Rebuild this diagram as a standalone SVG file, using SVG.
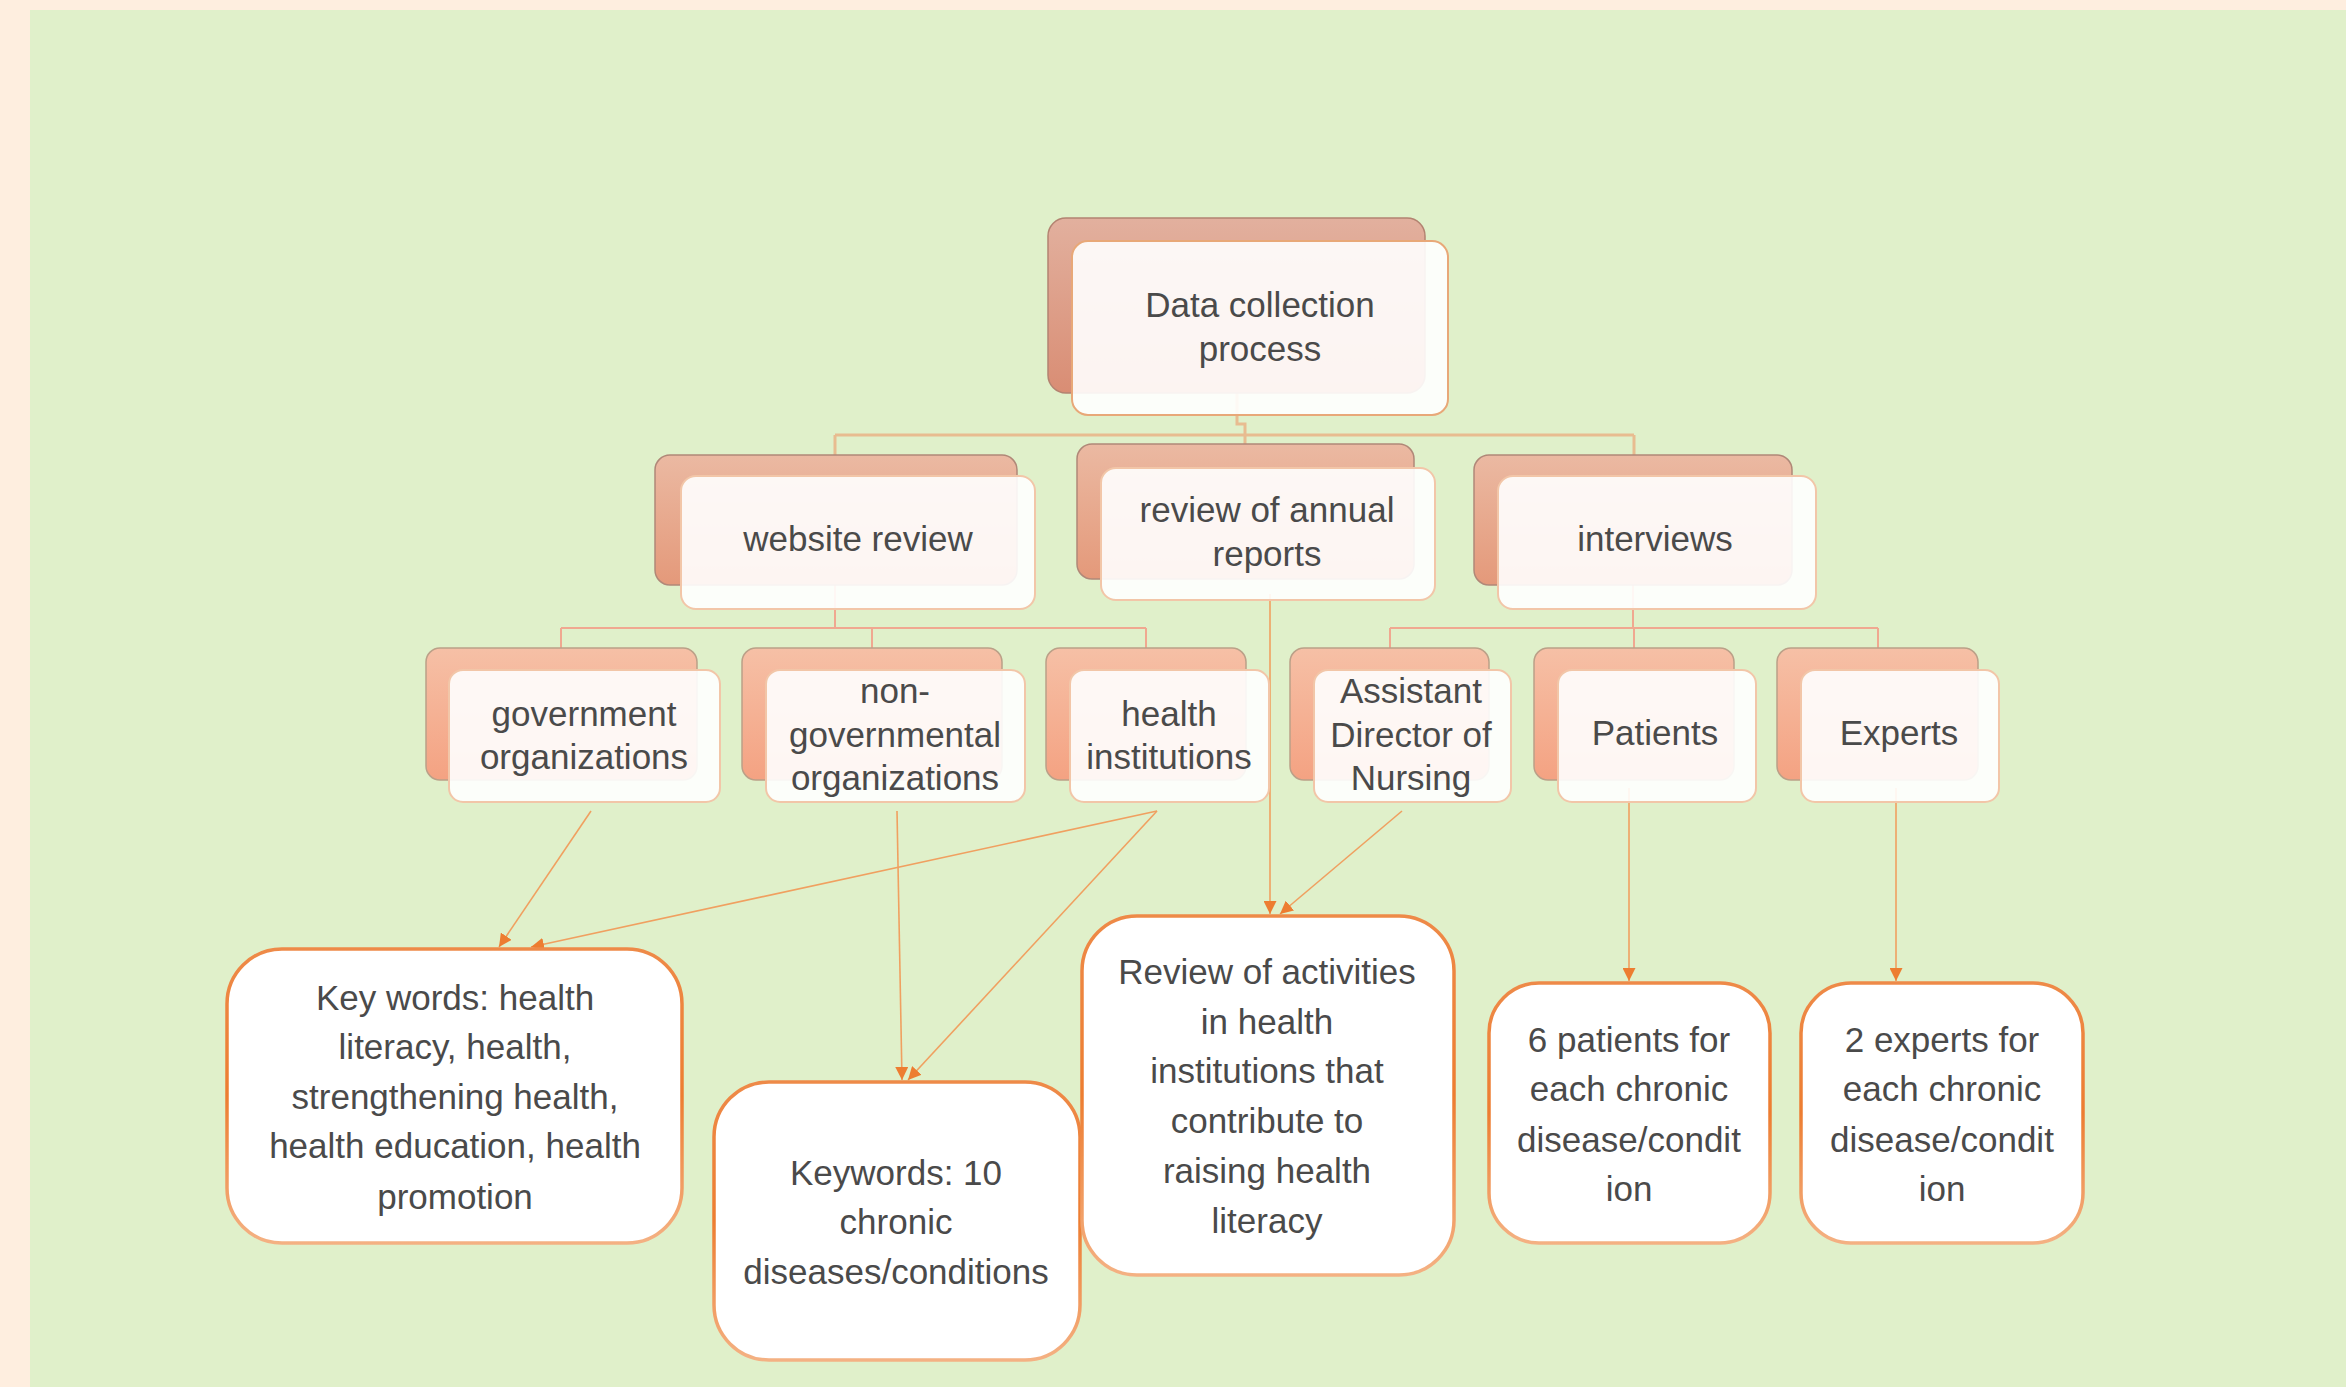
<svg xmlns="http://www.w3.org/2000/svg" width="2346" height="1387" viewBox="0 0 2346 1387">
<style>
.t{font-family:"Liberation Sans",Arial,sans-serif;font-size:35px;fill:#4A4A4A;text-anchor:middle}
.b1{fill:url(#g1);stroke:#B38371;stroke-width:1.5}
.b2{fill:url(#g2);stroke:#B08878;stroke-width:1.5}
.b3{fill:url(#g3);stroke:#BBA088;stroke-width:1.5}
.f{fill:#FFFFFF;fill-opacity:0.9;stroke:#F2C6A8;stroke-width:2}
.f1{fill:#FFFFFF;fill-opacity:0.9;stroke:#E8A878;stroke-width:2}
.leaf{fill:#FFFFFF;stroke:url(#gs);stroke-width:3.5}
.bar{fill:none;stroke:#E8BC90;stroke-width:3}
.bar2{fill:none;stroke:#F0A890;stroke-width:2}
.arr{fill:none;stroke:#F0A060;stroke-width:1.6;marker-end:url(#ah)}
</style>
<defs>
<linearGradient id="g1" x1="0" y1="0" x2="0" y2="1"><stop offset="0" stop-color="#E2B09E"/><stop offset="1" stop-color="#D98D74"/></linearGradient>
<linearGradient id="g2" x1="0" y1="0" x2="0" y2="1"><stop offset="0" stop-color="#EBB9A2"/><stop offset="1" stop-color="#E4997A"/></linearGradient>
<linearGradient id="g3" x1="0" y1="0" x2="0" y2="1"><stop offset="0" stop-color="#F6C0A6"/><stop offset="1" stop-color="#F4A282"/></linearGradient>
<linearGradient id="gs" x1="0" y1="0" x2="0" y2="1"><stop offset="0" stop-color="#EE8A48"/><stop offset="0.5" stop-color="#ED7D31"/><stop offset="1" stop-color="#F4B183"/></linearGradient>
<marker id="ah" markerUnits="userSpaceOnUse" markerWidth="15" markerHeight="13" refX="13" refY="6.5" orient="auto"><path d="M0 0 L13 6.5 L0 13 Z" fill="#ED7D31"/></marker>
</defs>
<rect x="0" y="0" width="2346" height="1387" fill="#FEEEDF"/>
<rect x="30" y="10" width="2316" height="1377" fill="#E0F0CA"/>
<g id="connectors">
<path class="bar" d="M1237 392 V424 H1245 V444"/>
<path class="bar" d="M835 435 H1634 M835 435 V455 M1634 435 V455"/>
<path class="bar2" d="M835 585 V628 M561 628 H1146 M561 628 V648 M872 628 V648 M1146 628 V648"/>
<path class="bar2" d="M1633 585 V628 M1390 628 H1878 M1390 628 V648 M1634 628 V648 M1878 628 V648"/>
<path class="arr" d="M591 811 L499 947"/>
<path class="arr" d="M1157 811 L531 947"/>
<path class="arr" d="M897 811 L902 1080"/>
<path class="arr" d="M1157 811 L908 1080"/>
<path class="arr" d="M1270 594 L1270 914"/>
<path class="arr" d="M1402 811 L1280 914"/>
<path class="arr" d="M1629 788 L1629 981"/>
<path class="arr" d="M1896 788 L1896 981"/>
</g>
<g id="n-root">
<rect class="b1" x="1048" y="218" width="377" height="175" rx="18"/>
<rect class="f1" x="1072" y="241" width="376" height="174" rx="16"/>
<text class="t" x="1260" y="317">Data collection</text>
<text class="t" x="1260" y="361">process</text>
</g>
<g id="n-website">
<rect class="b2" x="655" y="455" width="362" height="130" rx="15"/>
<rect class="f" x="681" y="476" width="354" height="133" rx="15"/>
<text class="t" x="858" y="551">website review</text>
</g>
<g id="n-annual">
<rect class="b2" x="1077" y="444" width="337" height="135" rx="15"/>
<rect class="f" x="1101" y="468" width="334" height="132" rx="15"/>
<text class="t" x="1267" y="522">review of annual</text>
<text class="t" x="1267" y="566">reports</text>
</g>
<g id="n-interviews">
<rect class="b2" x="1474" y="455" width="318" height="130" rx="15"/>
<rect class="f" x="1498" y="476" width="318" height="133" rx="15"/>
<text class="t" x="1655" y="551">interviews</text>
</g>
<g id="n-gov">
<rect class="b3" x="426" y="648" width="271" height="132" rx="14"/>
<rect class="f" x="449" y="670" width="271" height="132" rx="14"/>
<text class="t" x="584" y="726">government</text>
<text class="t" x="584" y="769">organizations</text>
</g>
<g id="n-ngo">
<rect class="b3" x="742" y="648" width="260" height="132" rx="14"/>
<rect class="f" x="766" y="670" width="259" height="132" rx="14"/>
<text class="t" x="895" y="703">non-</text>
<text class="t" x="895" y="747">governmental</text>
<text class="t" x="895" y="790">organizations</text>
</g>
<g id="n-health">
<rect class="b3" x="1046" y="648" width="200" height="132" rx="14"/>
<rect class="f" x="1070" y="670" width="199" height="132" rx="14"/>
<text class="t" x="1169" y="726">health</text>
<text class="t" x="1169" y="769">institutions</text>
</g>
<g id="n-adn">
<rect class="b3" x="1290" y="648" width="199" height="132" rx="14"/>
<rect class="f" x="1314" y="670" width="197" height="132" rx="14"/>
<text class="t" x="1411" y="703">Assistant</text>
<text class="t" x="1411" y="747">Director of</text>
<text class="t" x="1411" y="790">Nursing</text>
</g>
<g id="n-patients">
<rect class="b3" x="1534" y="648" width="200" height="132" rx="14"/>
<rect class="f" x="1558" y="670" width="198" height="132" rx="14"/>
<text class="t" x="1655" y="745">Patients</text>
</g>
<g id="n-experts">
<rect class="b3" x="1777" y="648" width="201" height="132" rx="14"/>
<rect class="f" x="1801" y="670" width="198" height="132" rx="14"/>
<text class="t" x="1899" y="745">Experts</text>
</g>
<g id="n-keywords1">
<rect class="leaf" x="227" y="949" width="455" height="294" rx="55"/>
<text class="t" x="455" y="1010">Key words: health</text>
<text class="t" x="455" y="1059">literacy, health,</text>
<text class="t" x="455" y="1109">strengthening health,</text>
<text class="t" x="455" y="1158">health education, health</text>
<text class="t" x="455" y="1209">promotion</text>
</g>
<g id="n-keywords2">
<rect class="leaf" x="714" y="1082" width="366" height="278" rx="55"/>
<text class="t" x="896" y="1185">Keywords: 10</text>
<text class="t" x="896" y="1234">chronic</text>
<text class="t" x="896" y="1284">diseases/conditions</text>
</g>
<g id="n-review">
<rect class="leaf" x="1082" y="916" width="372" height="359" rx="55"/>
<text class="t" x="1267" y="984">Review of activities</text>
<text class="t" x="1267" y="1034">in health</text>
<text class="t" x="1267" y="1083">institutions that</text>
<text class="t" x="1267" y="1133">contribute to</text>
<text class="t" x="1267" y="1183">raising health</text>
<text class="t" x="1267" y="1233">literacy</text>
</g>
<g id="n-6patients">
<rect class="leaf" x="1489" y="983" width="281" height="260" rx="50"/>
<text class="t" x="1629" y="1052">6 patients for</text>
<text class="t" x="1629" y="1101">each chronic</text>
<text class="t" x="1629" y="1152">disease/condit</text>
<text class="t" x="1629" y="1201">ion</text>
</g>
<g id="n-2experts">
<rect class="leaf" x="1801" y="983" width="282" height="260" rx="50"/>
<text class="t" x="1942" y="1052">2 experts for</text>
<text class="t" x="1942" y="1101">each chronic</text>
<text class="t" x="1942" y="1152">disease/condit</text>
<text class="t" x="1942" y="1201">ion</text>
</g>
</svg>
